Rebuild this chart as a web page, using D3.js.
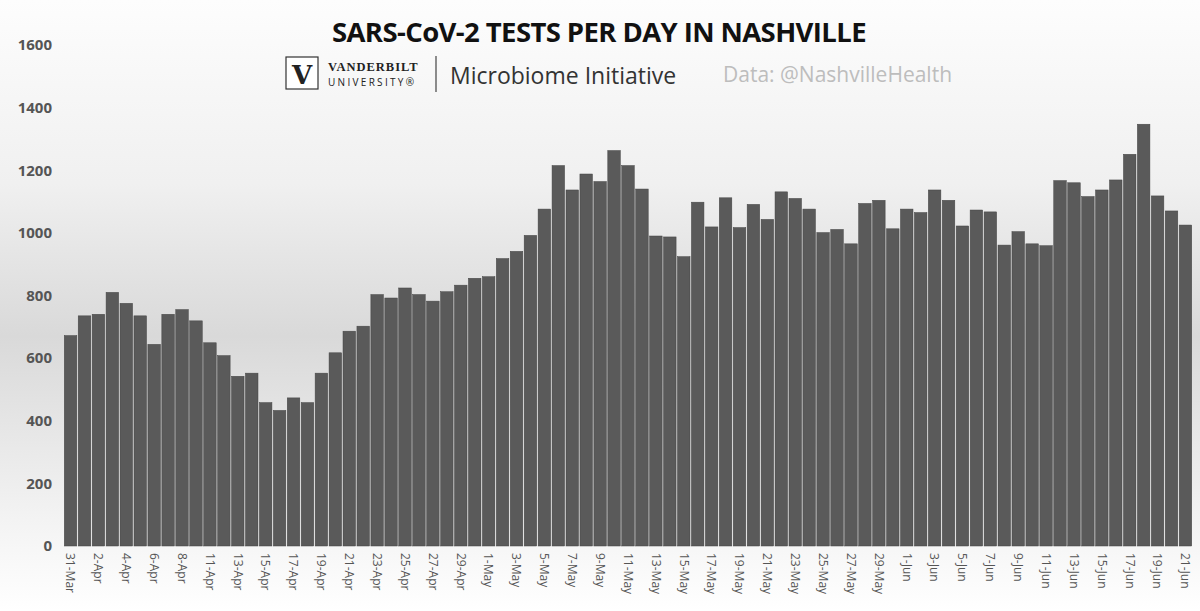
<!DOCTYPE html>
<html><head><meta charset="utf-8">
<script src="https://cdn.jsdelivr.net/npm/d3@7"></script>
<style>body{margin:0;background:#fff}svg{display:block}</style>
</head><body>
<svg id="chart" width="1200" height="611"></svg>
<script>
// daily tests, 31-Mar to 21-Jun (10-Apr and 31-May absent in source)
const skipped = ["2020-04-10", "2020-05-31"];
const dates = d3.timeDay.range(new Date(2020, 2, 31), new Date(2020, 5, 22))
  .filter(d => !skipped.includes(d3.timeFormat("%Y-%m-%d")(d)));
const tests = [672, 735, 740, 810, 775, 735, 644, 740, 755, 719, 649, 608, 542, 552, 458, 433, 473, 458, 552, 617, 686, 702,
  803, 792, 824, 803, 782, 812, 833, 855,
  860, 918, 941, 992, 1076, 1215, 1137, 1188, 1164, 1263, 1215, 1140, 990, 987, 924, 1098, 1019, 1112, 1017, 1091, 1043, 1131, 1110, 1076, 1001, 1011,
  965, 1094, 1104, 1013, 1076, 1065, 1137, 1104, 1022, 1073, 1067, 961, 1004, 965, 959, 1167, 1160, 1116, 1137, 1169, 1251, 1347, 1118, 1070, 1025];
const yTicks = [0, 200, 400, 600, 800, 1000, 1200, 1400, 1600];

const labels = dates.map(d3.timeFormat("%-d-%b"));
const svg = d3.select("#chart");

const grad = svg.append("defs").append("linearGradient").attr("id", "bg")
  .attr("x1", 0).attr("y1", 0).attr("x2", 0).attr("y2", 1);
grad.append("stop").attr("offset", "0%").attr("stop-color", "#fdfdfd");
grad.append("stop").attr("offset", "30%").attr("stop-color", "#f0f0f0");
grad.append("stop").attr("offset", "55%").attr("stop-color", "#d9d9d9");
grad.append("stop").attr("offset", "85%").attr("stop-color", "#f3f3f3");
grad.append("stop").attr("offset", "100%").attr("stop-color", "#ffffff");
svg.append("rect").attr("width", 1200).attr("height", 611).attr("fill", "url(#bg)");

const x = d3.scaleBand().domain(labels).range([64, 1192]).paddingInner(0.1).paddingOuter(0.02);
const y = d3.scaleLinear().domain([0, 1600]).range([546, 45]);

svg.append("g").selectAll("rect").data(tests).join("rect")
  .attr("x", (d, i) => x(labels[i]))
  .attr("y", d => y(d))
  .attr("width", x.bandwidth())
  .attr("height", d => y(0) - y(d))
  .attr("fill", "#5a5a5a")
  .attr("stroke", "#444").attr("stroke-width", 0.5);

const yAxis = svg.append("g").attr("transform", "translate(52,0)")
  .call(d3.axisLeft(y).tickValues(yTicks).tickFormat(d3.format("d")).tickSize(0).tickPadding(0));
yAxis.select(".domain").remove();
yAxis.selectAll("text").attr("font-family", "Open Sans, sans-serif").attr("font-weight", "bold")
  .attr("font-size", 15).attr("fill", "#555");

const xAxis = svg.append("g").attr("transform", "translate(0,546)")
  .call(d3.axisBottom(x).tickValues(labels.filter((l, i) => i % 2 === 0)).tickSize(0).tickPadding(0));
xAxis.select(".domain").remove();
xAxis.selectAll("text")
  .attr("font-family", "Open Sans, sans-serif").attr("font-size", 12).attr("fill", "#555")
  .attr("text-anchor", "start").attr("dy", "0.35em")
  .attr("transform", "translate(0,7) rotate(90)");

// header
svg.append("text").attr("x", 599).attr("y", 42).attr("text-anchor", "middle")
  .attr("font-family", "Open Sans, sans-serif").attr("font-weight", "bold").attr("letter-spacing", -0.6)
  .attr("font-size", 27.5).attr("fill", "#111").text("SARS-CoV-2 TESTS PER DAY IN NASHVILLE");

const logo = svg.append("g");
logo.append("rect").attr("x", 286).attr("y", 57).attr("width", 32).attr("height", 32)
  .attr("fill", "#fff").attr("stroke", "#333").attr("stroke-width", 1.2);
logo.append("text").attr("x", 302).attr("y", 84).attr("text-anchor", "middle")
  .attr("font-family", "DejaVu Serif, serif").attr("font-weight", "bold").attr("font-size", 26)
  .attr("fill", "#222").text("V");
logo.append("text").attr("x", 328).attr("y", 71).attr("font-family", "Liberation Serif, serif")
  .attr("font-weight", "bold").attr("font-size", 12.5).attr("letter-spacing", 1).attr("fill", "#222").text("VANDERBILT");
logo.append("text").attr("x", 328).attr("y", 86).attr("font-family", "Open Sans, sans-serif")
  .attr("font-size", 10).attr("letter-spacing", 2.3).attr("fill", "#222").text("UNIVERSITY®");
logo.append("line").attr("x1", 436).attr("x2", 436).attr("y1", 56).attr("y2", 92)
  .attr("stroke", "#444").attr("stroke-width", 1.2);
svg.append("text").attr("x", 450).attr("y", 84).attr("font-family", "Open Sans, sans-serif")
  .attr("font-size", 23).attr("fill", "#333").text("Microbiome Initiative");
svg.append("text").attr("x", 723).attr("y", 82).attr("font-family", "Open Sans, sans-serif")
  .attr("font-size", 21).attr("fill", "#bdbdbd").text("Data: @NashvilleHealth");
</script>
</body></html>
